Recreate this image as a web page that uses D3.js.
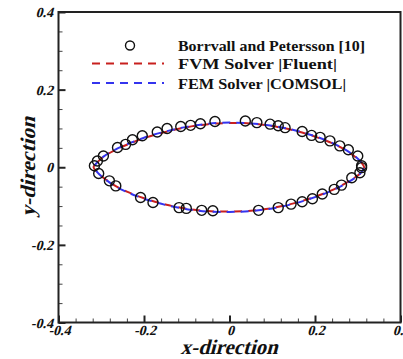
<!DOCTYPE html>
<html><head><meta charset="utf-8">
<script src="https://cdn.jsdelivr.net/npm/d3@7"></script>
<style>body{margin:0;background:#fff}svg{display:block}</style>
</head><body>
<script>
const refX = [-0.316,-0.309,-0.295,-0.262,-0.243,-0.227,-0.204,-0.169,-0.146,-0.114,-0.091,-0.068,-0.034,0.037,0.064,0.095,0.114,0.130,0.170,0.192,0.212,0.235,0.258,0.278,0.300,0.309,
  0.309,0.305,0.286,0.262,0.245,0.217,0.194,0.170,0.144,0.114,0.068,-0.039,-0.065,-0.101,-0.118,-0.179,-0.208,-0.266,-0.281,-0.306];
const refY = [0.004,0.016,0.029,0.051,0.059,0.071,0.081,0.091,0.100,0.105,0.108,0.112,0.118,0.119,0.115,0.111,0.107,0.102,0.092,0.082,0.077,0.068,0.055,0.045,0.029,0.004,
  -0.001,-0.014,-0.027,-0.046,-0.057,-0.069,-0.081,-0.089,-0.095,-0.104,-0.111,-0.112,-0.111,-0.106,-0.104,-0.091,-0.078,-0.048,-0.035,-0.016];

const fvmX = [-0.318,-0.31,-0.295,-0.27,-0.24,-0.2,-0.15,-0.1,-0.05,0,0.05,0.1,0.15,0.2,0.24,0.27,0.295,0.31,0.315,
  0.31,0.295,0.27,0.24,0.2,0.15,0.1,0.05,0,-0.05,-0.1,-0.15,-0.2,-0.24,-0.27,-0.295,-0.31];
const fvmY = [0,0.012,0.027,0.043,0.058,0.075,0.091,0.103,0.111,0.114,0.113,0.106,0.095,0.079,0.062,0.045,0.026,0.010,0,
  -0.012,-0.025,-0.042,-0.059,-0.076,-0.093,-0.105,-0.112,-0.114,-0.113,-0.107,-0.096,-0.080,-0.063,-0.046,-0.027,-0.012];
const femX = [-0.317,-0.309,-0.294,-0.27,-0.24,-0.2,-0.15,-0.1,-0.05,0,0.05,0.1,0.15,0.2,0.24,0.27,0.295,0.309,0.314,
  0.309,0.295,0.27,0.24,0.2,0.15,0.1,0.05,0,-0.05,-0.1,-0.15,-0.2,-0.24,-0.27,-0.294,-0.309];
const femY = [0,0.013,0.028,0.044,0.059,0.076,0.092,0.104,0.112,0.115,0.113,0.107,0.096,0.080,0.063,0.046,0.027,0.011,0,
  -0.012,-0.026,-0.043,-0.060,-0.077,-0.094,-0.106,-0.113,-0.115,-0.114,-0.108,-0.097,-0.081,-0.064,-0.047,-0.028,-0.013];

const xMajor = [-0.4,-0.2,0,0.2,0.4];
const yMajor = [-0.4,-0.2,0,0.2,0.4];
const xMajorLabels = ["-0.4","-0.2","0","0.2","0.4"];
const yMajorLabels = ["-0.4","-0.2","0","0.2","0.4"];
const legendLabels = ["Borrvall and Petersson [10]","FVM Solver |Fluent|","FEM Solver |COMSOL|"];

const W=403,H=359;
const svg=d3.select("body").append("svg").attr("width",W).attr("height",H);
const x=d3.scaleLinear().domain([-0.4,0.4]).range([58.5,400.5]);
const y=d3.scaleLinear().domain([-0.4,0.4]).range([322.5,12]);
const red="#c8201e", blue="#3434ee";
const serif="'Liberation Serif','Times New Roman',serif";
const SK=-15;

// italic-by-skew text helper
function itext(px,py,str,size,anchor,rot,tlen){
  const t=svg.append("text")
    .attr("transform",`translate(${px},${py})${rot?` rotate(${rot})`:""} skewX(${SK})`)
    .attr("x",0).attr("y",0).attr("text-anchor",anchor).text(str)
    .attr("font-family",serif).attr("font-weight","bold").attr("font-size",size).attr("fill","#111");
  if(tlen) t.attr("textLength",tlen).attr("lengthAdjust","spacingAndGlyphs");
  return t;
}

const xMinor=d3.range(-0.4,0.4001,0.04).filter(v=>!xMajor.some(m=>Math.abs(m-v)<1e-6));
const yMinor=d3.range(-0.4,0.4001,0.05).filter(v=>!yMajor.some(m=>Math.abs(m-v)<1e-6));

function tickLines(g,w,c){g.select(".domain").remove();g.selectAll(".tick text").remove();g.selectAll("line").attr("stroke",c).attr("stroke-width",w);}
svg.append("g").attr("transform",`translate(0,${y(-0.4)})`).call(d3.axisBottom(x).tickValues(xMajor).tickSize(-7)).call(g=>tickLines(g,2,"#222"));
svg.append("g").attr("transform",`translate(0,${y(-0.4)})`).call(d3.axisBottom(x).tickValues(xMinor).tickSize(-4)).call(g=>tickLines(g,1,"#444"));
svg.append("g").attr("transform",`translate(${x(-0.4)},0)`).call(d3.axisLeft(y).tickValues(yMajor).tickSize(-7)).call(g=>tickLines(g,2,"#222"));
svg.append("g").attr("transform",`translate(${x(-0.4)},0)`).call(d3.axisLeft(y).tickValues(yMinor).tickSize(-4)).call(g=>tickLines(g,1,"#444"));

xMajor.forEach((v,i)=>itext(x(v)+1,335,xMajorLabels[i],14,"middle"));
yMajor.forEach((v,i)=>itext(53,y(v)+5,yMajorLabels[i],14,"end"));

// frame
svg.append("rect").attr("x",x(-0.4)).attr("y",y(0.4)).attr("width",x(0.4)-x(-0.4)).attr("height",y(-0.4)-y(0.4))
  .attr("fill","none").attr("stroke","#222").attr("stroke-width",2);

// lines
const line=d3.line().x(d=>x(d[0])).y(d=>y(d[1])).curve(d3.curveCatmullRomClosed);
svg.append("path").datum(fvmX.map((v,i)=>[v,fvmY[i]])).attr("d",line).attr("fill","none")
  .attr("stroke",red).attr("stroke-width",2).attr("stroke-dasharray","8,6");
svg.append("path").datum(femX.map((v,i)=>[v,femY[i]])).attr("d",line).attr("fill","none")
  .attr("stroke",blue).attr("stroke-width",2).attr("stroke-dasharray","8,6").attr("stroke-dashoffset",7);

// reference circles
svg.append("g").selectAll("circle").data(refX.map((v,i)=>[v,refY[i]])).join("circle")
  .attr("cx",d=>x(d[0])).attr("cy",d=>y(d[1])).attr("r",5)
  .attr("fill","none").attr("stroke","#111").attr("stroke-width",1.4);

// legend
const lg=svg.append("g");
lg.append("circle").attr("cx",130).attr("cy",45.5).attr("r",4.5).attr("fill","none").attr("stroke","#111").attr("stroke-width",1.4);
lg.append("line").attr("x1",92).attr("x2",164).attr("y1",63.5).attr("y2",63.5).attr("stroke",red).attr("stroke-width",2).attr("stroke-dasharray","8,6");
lg.append("line").attr("x1",92).attr("x2",164).attr("y1",83).attr("y2",83).attr("stroke",blue).attr("stroke-width",2).attr("stroke-dasharray","8,6");
const lyy=[50.5,69,88.5], lw=[187,159,168];
legendLabels.forEach((t,i)=>{
  lg.append("text").attr("x",178).attr("y",lyy[i]).text(t)
    .attr("font-family",serif).attr("font-weight","bold").attr("font-size",14).attr("fill","#111")
    .attr("textLength",lw[i]).attr("lengthAdjust","spacingAndGlyphs");
});

// axis titles
itext(229,354,"x-direction",21,"middle",0,97);
itext(35,167,"y-direction",21,"middle",-90,100);
</script>
</body></html>
